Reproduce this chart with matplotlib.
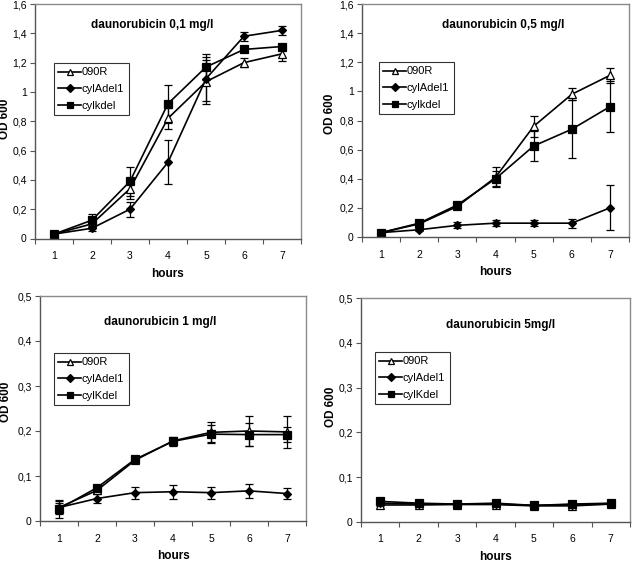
import matplotlib
matplotlib.use("Agg")
import matplotlib.pyplot as plt
from matplotlib.ticker import FuncFormatter, FixedLocator

plt.rcParams['font.family'] = ['Liberation Sans', 'DejaVu Sans']

hours = [1, 2, 3, 4, 5, 6, 7]

# daunorubicin 0,1 mg/l
p1_090R = [0.03, 0.10, 0.34, 0.82, 1.07, 1.20, 1.26]
p1_090R_err = [0.01, 0.02, 0.07, 0.07, 0.15, 0.03, 0.05]
p1_cylA = [0.03, 0.07, 0.20, 0.52, 1.09, 1.38, 1.42]
p1_cylA_err = [0.01, 0.02, 0.05, 0.15, 0.15, 0.03, 0.03]
p1_cylK = [0.03, 0.125, 0.39, 0.92, 1.17, 1.29, 1.31]
p1_cylK_err = [0.01, 0.04, 0.10, 0.13, 0.09, 0.01, 0.01]

# daunorubicin 0,5 mg/l
p2_090R = [0.03, 0.09, 0.21, 0.41, 0.76, 0.98, 1.11]
p2_090R_err = [0.01, 0.01, 0.02, 0.07, 0.07, 0.04, 0.05]
p2_cylA = [0.03, 0.05, 0.08, 0.095, 0.095, 0.095, 0.20]
p2_cylA_err = [0.005, 0.01, 0.02, 0.02, 0.02, 0.03, 0.155]
p2_cylK = [0.03, 0.095, 0.22, 0.40, 0.625, 0.74, 0.895]
p2_cylK_err = [0.005, 0.01, 0.02, 0.05, 0.105, 0.20, 0.175]

# daunorubicin 1 mg/l
p3_090R = [0.03, 0.068, 0.135, 0.178, 0.197, 0.200, 0.198]
p3_090R_err = [0.01, 0.005, 0.004, 0.006, 0.022, 0.033, 0.035]
p3_cylA = [0.03, 0.05, 0.063, 0.065, 0.063, 0.067, 0.061]
p3_cylA_err = [0.015, 0.01, 0.013, 0.015, 0.013, 0.016, 0.013]
p3_cylK = [0.027, 0.074, 0.137, 0.177, 0.193, 0.192, 0.192]
p3_cylK_err = [0.02, 0.005, 0.004, 0.01, 0.02, 0.025, 0.017]

# daunorubicin 5mg/l
p4_090R = [0.038, 0.038, 0.039, 0.039, 0.036, 0.036, 0.040]
p4_090R_err = [0.002] * 7
p4_cylA = [0.042, 0.040, 0.040, 0.040, 0.037, 0.039, 0.040]
p4_cylA_err = [0.002] * 7
p4_cylK = [0.046, 0.042, 0.040, 0.042, 0.037, 0.040, 0.042]
p4_cylK_err = [0.002] * 7

W, H = 632, 563
fig = plt.figure(figsize=(W / 100, H / 100), dpi=100)

def fmt(v, pos):
    s = ('%.1f' % v).rstrip('0').rstrip('.')
    return s.replace('.', ',')

panels = [
    dict(box=(35, 4, 301, 238.5), ymax=1.6, ystep=0.2, title='daunorubicin 0,1 mg/l', tx=152, ty=25,
         leg=(54, 63, 122, 117), klabel='cylkdel', yl=(5, 119),
         data=[(p1_090R, p1_090R_err), (p1_cylA, p1_cylA_err), (p1_cylK, p1_cylK_err)]),
    dict(box=(362, 4, 629, 237), ymax=1.6, ystep=0.2, title='daunorubicin 0,5 mg/l', tx=503, ty=25,
         leg=(379, 62, 446, 113), klabel='cylkdel', yl=(330, 114),
         data=[(p2_090R, p2_090R_err), (p2_cylA, p2_cylA_err), (p2_cylK, p2_cylK_err)]),
    dict(box=(40, 296, 306, 521), ymax=0.5, ystep=0.1, title='daunorubicin 1 mg/l', tx=160, ty=322,
         leg=(54, 353, 120, 403), klabel='cylKdel', yl=(6, 402),
         data=[(p3_090R, p3_090R_err), (p3_cylA, p3_cylA_err), (p3_cylK, p3_cylK_err)]),
    dict(box=(361, 298, 630, 522), ymax=0.5, ystep=0.1, title='daunorubicin 5mg/l', tx=501, ty=325,
         leg=(375, 352, 443, 402), klabel='cylKdel', yl=(331, 407),
         data=[(p4_090R, p4_090R_err), (p4_cylA, p4_cylA_err), (p4_cylK, p4_cylK_err)]),
]

markers = [dict(marker='^', mfc='white', ms=5.5, lms=4.5),
           dict(marker='D', mfc='black', ms=4.5, lms=3.8),
           dict(marker='s', mfc='black', ms=5.5, lms=4.5)]

for p in panels:
    x0, y0, x1, y1 = p['box']
    ax = fig.add_axes([x0 / W, 1 - y1 / H, (x1 - x0) / W, (y1 - y0) / H])
    labels = ['090R', 'cylAdel1', p['klabel']]
    handles = []
    for (vals, errs), m, lab in zip(p['data'], markers, labels):
        ax.errorbar(hours, vals, yerr=errs, color='black', lw=1.2, elinewidth=0.9,
                    capsize=3, capthick=0.9, marker=m['marker'], mfc=m['mfc'],
                    mec='black', ms=m['ms'], mew=0.9)
        h, = ax.plot([], [], color='black', lw=1.2, marker=m['marker'], mfc=m['mfc'],
                     mec='black', ms=m['lms'], mew=0.9)
        handles.append(h)
    ax.set_xlim(0.5, 7.5)
    ax.set_ylim(0, p['ymax'])
    n = int(round(p['ymax'] / p['ystep']))
    ax.set_yticks([i * p['ystep'] for i in range(n + 1)])
    ax.yaxis.set_major_formatter(FuncFormatter(fmt))
    ax.set_xticks(hours)
    ax.xaxis.set_minor_locator(FixedLocator([h + 0.5 for h in [0] + hours]))
    ax.tick_params(axis='x', which='major', length=0, labelsize=7.5, pad=9)
    ax.tick_params(axis='x', which='minor', length=3.5, direction='out', width=0.8, color='#555555')
    ax.tick_params(axis='y', length=3.5, direction='out', width=0.8, labelsize=7.5, pad=2.5,
                   color='#555555')
    for s in ['top', 'right']:
        ax.spines[s].set_color('#8a8a8a')
        ax.spines[s].set_linewidth(1.0)
    for s in ['left', 'bottom']:
        ax.spines[s].set_color('#555555')
        ax.spines[s].set_linewidth(1.0)
    ax.set_xlabel('hours', fontsize=8.5, fontweight='bold', labelpad=5)
    fig.text(p['yl'][0] / W, 1 - p['yl'][1] / H, 'OD 600', fontsize=8.5, fontweight='bold',
             rotation=90, ha='center', va='center')
    fig.text(p['tx'] / W, 1 - p['ty'] / H, p['title'], fontsize=8.5, fontweight='bold',
             ha='center', va='center')
    lx0, ly0, lx1, ly1 = p['leg']
    leg = ax.legend(handles, labels, loc='upper left',
                    bbox_to_anchor=((lx0 - x0) / (x1 - x0), 1 - (ly0 - y0) / (y1 - y0)),
                    frameon=True, fancybox=False, edgecolor='black', fontsize=8,
                    handlelength=2.0, handletextpad=0.1, borderpad=0.4, labelspacing=0.6,
                    borderaxespad=0)
    leg.get_frame().set_linewidth(0.8)

fig.savefig('out.png', dpi=100, facecolor='white')
